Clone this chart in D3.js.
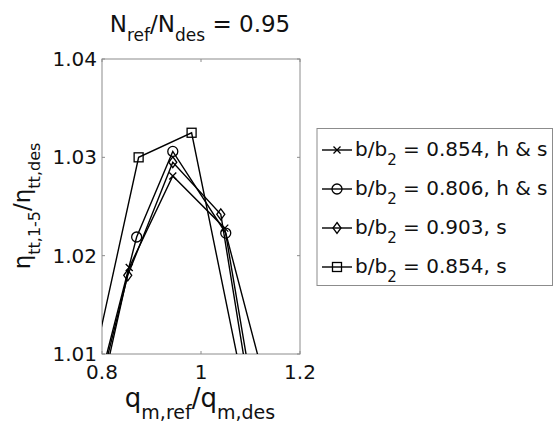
<!DOCTYPE html>
<html>
<head>
<meta charset="utf-8">
<script src="https://cdn.jsdelivr.net/npm/d3@7"></script>
<style>
  body { margin: 0; background: #fff; }
  text { font-family: 'DejaVu Sans', sans-serif; fill: #111; }
</style>
</head>
<body>
<svg width="554" height="425"></svg>
<script>
// series: q_m,ref/q_m,des against eta ratio (end points fall outside the axes and get clipped)
const seriesLabels = [['0.854', ', h & s'], ['0.806', ', h & s'], ['0.903', ', s'], ['0.854', ', s']];
const seriesMarkers = ['x', 'circle', 'diamond', 'square'];
const xHS854 = [0.80, 0.855, 0.943, 1.048, 1.10];
const yHS854 = [1.0064, 1.0188, 1.0281, 1.0228, 1.0073];
const xHS806 = [0.80, 0.870, 0.943, 1.050, 1.15];
const yHS806 = [1.0081, 1.0219, 1.0306, 1.0223, 1.0031];
const xS903 = [0.80, 0.852, 0.943, 1.040, 1.10];
const yS903 = [1.0075, 1.0180, 1.0295, 1.0242, 1.0055];
const xS854 = [0.78, 0.874, 0.981, 1.10];
const yS854 = [1.0084, 1.0300, 1.0325, 1.0031];
const seriesX = [xHS854, xHS806, xS903, xS854];
const seriesY = [yHS854, yHS806, yS903, yS854];

const xTicks = [0.8, 1, 1.2];
const yTicks = [1.01, 1.02, 1.03, 1.04];

const svg = d3.select('svg');
const m = {left: 102, right: 300, top: 59, bottom: 354};
const x = d3.scaleLinear().domain([0.8, 1.2]).range([m.left, m.right]);
const y = d3.scaleLinear().domain([1.01, 1.04]).range([m.bottom, m.top]);

svg.append('defs').append('clipPath').attr('id', 'plot')
  .append('rect')
  .attr('x', m.left).attr('y', m.top)
  .attr('width', m.right - m.left).attr('height', m.bottom - m.top);

// text with subscripts: parts = [[str, isSub], ...]
function richText(g, parts, size, subSize, subDy) {
  const t = g.append('text').attr('font-size', size);
  parts.forEach(([s, sub], i) => {
    const prevSub = i > 0 && parts[i - 1][1];
    let dy = 0;
    if (sub && !prevSub) dy = subDy;
    if (!sub && prevSub) dy = -subDy;
    t.append('tspan').attr('dy', dy)
      .attr('font-size', sub ? subSize : size)
      .text(s);
  });
  return t;
}

function marker(g, type, cx, cy) {
  const s = g.append('g').attr('transform', `translate(${cx},${cy})`);
  let el;
  if (type === 'circle') el = s.append('circle').attr('r', 5);
  else if (type === 'square') el = s.append('rect').attr('x', -4.5).attr('y', -4.5).attr('width', 9).attr('height', 9);
  else if (type === 'diamond') el = s.append('path').attr('d', 'M0,-5.5L4,0L0,5.5L-4,0Z');
  else el = s.append('path').attr('d', 'M-3.5,-3.5L3.5,3.5M-3.5,3.5L3.5,-3.5');
  el.attr('fill', 'none').attr('stroke', '#000').attr('stroke-width', 1.3);
}

// axes box
const axisColor = '#8c8c8c';
svg.append('rect')
  .attr('x', m.left).attr('y', m.top)
  .attr('width', m.right - m.left).attr('height', m.bottom - m.top)
  .attr('fill', 'none').attr('stroke', axisColor).attr('stroke-width', 1);

const tickLen = 3;
xTicks.forEach(t => {
  svg.append('path').attr('stroke', axisColor)
    .attr('d', `M${x(t)},${m.bottom}v${-tickLen}M${x(t)},${m.top}v${tickLen}`);
  svg.append('text').attr('x', x(t)).attr('y', 379)
    .attr('text-anchor', 'middle').attr('font-size', 20).text(t === 1 ? '1' : t.toFixed(1));
});
yTicks.forEach(t => {
  svg.append('path').attr('stroke', axisColor)
    .attr('d', `M${m.left},${y(t)}h${tickLen}M${m.right},${y(t)}h${-tickLen}`);
  svg.append('text').attr('x', 97).attr('y', y(t) + 7)
    .attr('text-anchor', 'end').attr('font-size', 20).text(t.toFixed(2));
});

// data lines
const plot = svg.append('g').attr('clip-path', 'url(#plot)');
const line = d3.line().x(d => x(d[0])).y(d => y(d[1]));
seriesX.forEach((xs, i) => {
  const pts = xs.map((v, j) => [v, seriesY[i][j]]);
  plot.append('path').datum(pts)
    .attr('d', line).attr('fill', 'none')
    .attr('stroke', '#000').attr('stroke-width', 1.4);
  pts.filter(p => p[0] >= 0.8 && p[0] <= 1.2 && p[1] >= 1.01 && p[1] <= 1.04)
    .forEach(p => marker(plot, seriesMarkers[i], x(p[0]), y(p[1])));
});

// title
richText(svg, [['N', false], ['ref', true], ['/N', false], ['des', true], [' = 0.95', false]], 23, 17, 9)
  .attr('x', 200).attr('y', 32).attr('text-anchor', 'middle');

// x label
richText(svg, [['q', false], ['m,ref', true], ['/q', false], ['m,des', true]], 26, 19, 12)
  .attr('x', 200).attr('y', 407).attr('text-anchor', 'middle');

// y label
richText(svg, [['\u03b7', false], ['tt,1-5', true], ['/\u03b7', false], ['tt,des', true]], 23, 16, 10)
  .attr('text-anchor', 'middle')
  .attr('transform', 'translate(30,206) rotate(-90)');

// legend
const leg = svg.append('g');
leg.append('rect').attr('x', 317).attr('y', 128.5).attr('width', 235.5).attr('height', 157)
  .attr('fill', '#fff').attr('stroke', axisColor).attr('stroke-width', 1);
const rowY = [150, 189, 228, 267];
seriesLabels.forEach((lab, i) => {
  const ry = rowY[i];
  leg.append('path').attr('d', `M322,${ry}H352`).attr('stroke', '#000').attr('stroke-width', 1.4);
  marker(leg, seriesMarkers[i], 337, ry);
  richText(leg, [['b/b', false], ['2', true], [' = ' + lab[0] + lab[1], false]], 20, 15, 9)
    .attr('x', 355).attr('y', ry + 6);
});
</script>
</body>
</html>
